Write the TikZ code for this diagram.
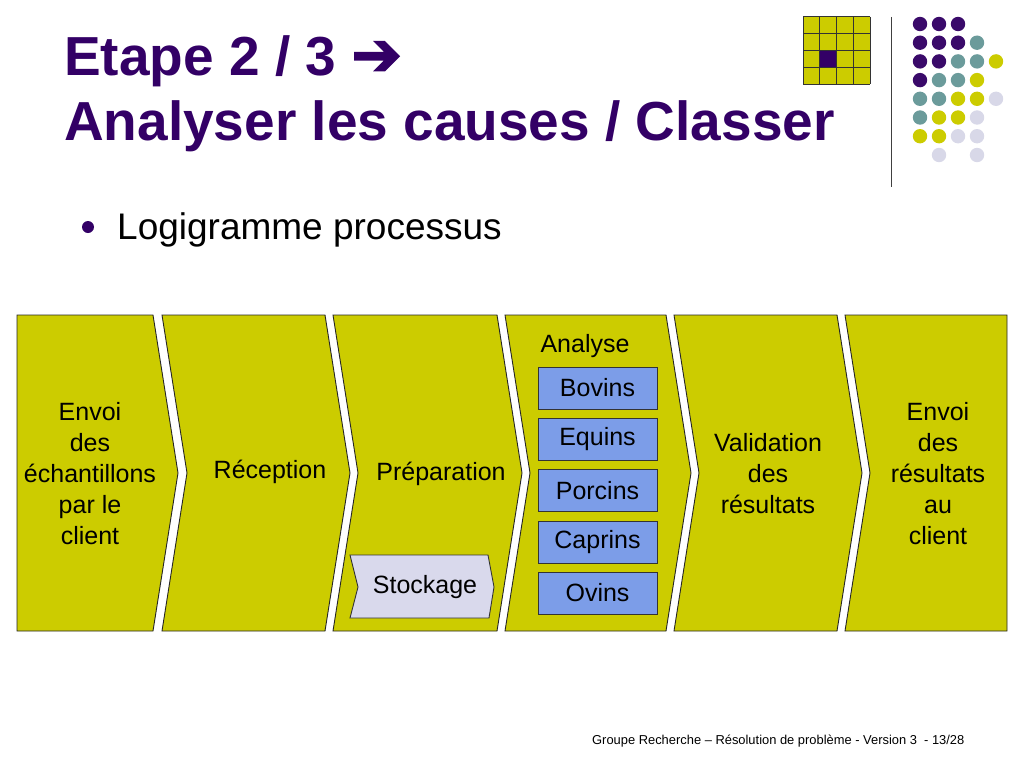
\documentclass[tikz,border=0pt]{standalone}
\usepackage{fontspec}
\setmainfont{Liberation Sans}
\newfontfamily\symfont[FakeBold=3]{DejaVu Sans}
\definecolor{titlepurple}{HTML}{330066}
\definecolor{olive}{HTML}{CCCC00}
\definecolor{boxblue}{HTML}{7C9DE8}
\definecolor{lav}{HTML}{D9D9EC}
\definecolor{teal}{HTML}{6B9B9B}
\definecolor{dotpurple}{HTML}{3A0A6A}
\definecolor{dotlav}{HTML}{D8D8E8}
\tikzset{
  chev/.style={fill=olive, draw=black!85, line width=0.9pt, line join=miter},
  lbl/.style={font=\fontsize{25}{31}\selectfont, align=center, inner sep=0pt, text=black},
  animal/.style={fill=boxblue, draw=black!80, line width=0.9pt, minimum width=119pt, minimum height=42pt, inner sep=0pt, font=\fontsize{25}{28}\selectfont},
  stock/.style={fill=lav, draw=black!80, line width=0.9pt},
  gridline/.style={black!80, line width=1pt},
  dotP/.style={fill=dotpurple},
  dotT/.style={fill=teal},
  dotY/.style={fill=olive},
  dotL/.style={fill=dotlav},
}
\begin{document}
\begin{tikzpicture}[x=1pt,y=-1pt]
\useasboundingbox[fill=white] (0,0) rectangle (1024,768);

% title
\node[anchor=base west, inner sep=0pt, text=titlepurple, font=\fontsize{55}{65}\bfseries\selectfont] (title1) at (64,75) {Etape 2 / 3 {\symfont\fontsize{60}{65}\selectfont\char"2794}};
\node[anchor=base west, inner sep=0pt, text=titlepurple, font=\fontsize{55}{65}\bfseries\selectfont] (title2) at (64,140) {Analyser les causes / Classer};

% logo grid
\fill[olive] (803,17) rectangle (870,84);
\fill[titlepurple] (819.75,50.5) rectangle (836.5,67.25);
\foreach \k in {0,...,4}{
  \draw[gridline] ({803+16.75*\k},17) -- ({803+16.75*\k},84);
  \draw[gridline] (803,{17+16.75*\k}) -- (870,{17+16.75*\k});
}
\draw[black!75, line width=1pt] (891,17) -- (891,187);

% dots
\foreach \c [count=\i] in {P,P,P}{\fill[dot\c] ({920+19*(\i-1)},24) circle (7.2);}
\foreach \c [count=\i] in {P,P,P,T}{\fill[dot\c] ({920+19*(\i-1)},42.7) circle (7.2);}
\foreach \c [count=\i] in {P,P,T,T,Y}{\fill[dot\c] ({920+19*(\i-1)},61.4) circle (7.2);}
\foreach \c [count=\i] in {P,T,T,Y}{\fill[dot\c] ({920+19*(\i-1)},80.1) circle (7.2);}
\foreach \c [count=\i] in {T,T,Y,Y,L}{\fill[dot\c] ({920+19*(\i-1)},98.8) circle (7.2);}
\foreach \c [count=\i] in {T,Y,Y,L}{\fill[dot\c] ({920+19*(\i-1)},117.5) circle (7.2);}
\foreach \c [count=\i] in {Y,Y,L,L}{\fill[dot\c] ({920+19*(\i-1)},136.2) circle (7.2);}
\fill[dotL] (939,155) circle (7.2);
\fill[dotL] (977,155) circle (7.2);

% bullet
\fill[titlepurple] (88,227) circle (6);
\node[anchor=base west, inner sep=0pt, font=\fontsize{37}{40}\selectfont] (bullet) at (117,239) {Logigramme processus};

% chevrons
\draw[chev] (17,315) -- (153,315) -- (178,473) -- (153,631) -- (17,631) -- cycle;
\draw[chev] (162,315) -- (325,315) -- (350,473) -- (325,631) -- (162,631) -- (187,473) -- cycle;
\draw[chev] (333,315) -- (497,315) -- (522,473) -- (497,631) -- (333,631) -- (358,473) -- cycle;
\draw[chev] (505,315) -- (666,315) -- (691,473) -- (666,631) -- (505,631) -- (530,473) -- cycle;
\draw[chev] (674,315) -- (837,315) -- (862,473) -- (837,631) -- (674,631) -- (699,473) -- cycle;
\draw[chev] (845,315) -- (1007,315) -- (1007,631) -- (845,631) -- (870,473) -- cycle;

% chevron labels
\node[lbl] (envoi) at (90,474) {Envoi\\des\\échantillons\\par le\\client};
\node[lbl] (recep) at (270,472) {Réception};
\node[lbl] (prep) at (441,474) {Préparation};
\node[lbl] (valid) at (768,474) {Validation\\des\\résultats};
\node[lbl] (envres) at (938,474) {Envoi\\des\\résultats\\au\\client};
\node[lbl] (analyse) at (585,346) {Analyse};

% analyse boxes
\node[animal] (bovins) at (597.5,388) {Bovins};
\node[animal] (equins) at (597.5,439) {Equins};
\node[animal] (porcins) at (597.5,490.5) {Porcins};
\node[animal] (caprins) at (597.5,542) {Caprins};
\node[animal] (ovins) at (597.5,593) {Ovins};

% stockage
\draw[stock] (350,555) -- (488,555) -- (494,587) -- (489,618) -- (350,618) -- (358,587) -- cycle;
\node[lbl] (stockage) at (425,587) {Stockage};

% footer
\node[anchor=base west, inner sep=0pt, font=\fontsize{12.9}{15}\selectfont] (footer) at (592,744) {Groupe Recherche – Résolution de problème - Version 3 \ - 13/28};
\end{tikzpicture}
\end{document}
